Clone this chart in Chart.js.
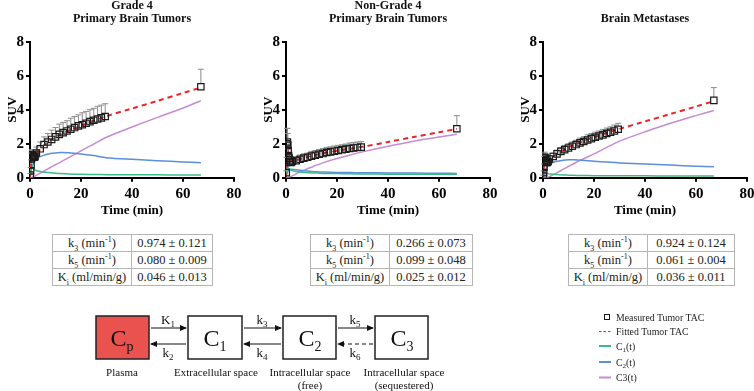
<!DOCTYPE html>
<html lang="en">
<head>
  <meta charset="UTF-8">
  <title>Tumor TAC kinetics</title>
  <script src="https://cdn.jsdelivr.net/npm/chart.js"></script>
  <style>
    body { margin: 0; background: #fff; }
    #page {
      position: relative;
      width: 754px;
      height: 391px;
      overflow: hidden;
      font-family: 'Liberation Serif', 'DejaVu Serif', 'Times New Roman', serif;
    }
    #page canvas { position: absolute; top: 0; }
    table.params {
      position: absolute;
      top: 234px;
      border-collapse: collapse;
      font-size: 12.5px;
      color: #222;
    }
    table.params td {
      border: 1px solid #b5b5b5;
      height: 16px;
      line-height: 16px;
      padding: 0 3px;
      text-align: center;
      white-space: nowrap;
    }
    table.params sub, table.params sup { font-size: 8px; line-height: 0; }
    #diagram { position: absolute; left: 0; top: 0; }
  </style>
</head>
<body>
  <div id="page">
    <canvas id="chartG4" width="250" height="218" style="left:0px"></canvas>
    <canvas id="chartNG4" width="250" height="218" style="left:256px"></canvas>
    <canvas id="chartMet" width="250" height="218" style="left:513px"></canvas>

    <table class="params" id="tableG4" style="left:52px;width:161px"></table>
    <table class="params" id="tableNG4" style="left:310px;width:163px"></table>
    <table class="params" id="tableMet" style="left:568px;width:167px"></table>

    <svg id="diagram" width="754" height="391">
      <defs>
        <marker id="ah" markerWidth="7" markerHeight="6" refX="6" refY="3" orient="auto" markerUnits="userSpaceOnUse">
          <path d="M0,0 L7,3 L0,6 z" fill="#111"/>
        </marker>
      </defs>
      <g font-family="Liberation Serif, DejaVu Serif, Times New Roman, serif" fill="#111">
        <!-- compartments -->
        <rect x="96" y="316" width="53" height="43" fill="#ea5250" stroke="#222" stroke-width="1.5"/>
        <rect x="188" y="316" width="54" height="43" fill="#fff" stroke="#222" stroke-width="1.5"/>
        <rect x="283" y="316" width="53" height="43" fill="#fff" stroke="#222" stroke-width="1.5"/>
        <rect x="375" y="316" width="53" height="43" fill="#fff" stroke="#222" stroke-width="1.5"/>
        <text x="122" y="346" text-anchor="middle" font-size="24">C<tspan font-size="14" dy="5">p</tspan></text>
        <text x="215" y="346" text-anchor="middle" font-size="24">C<tspan font-size="14" dy="5">1</tspan></text>
        <text x="310" y="346" text-anchor="middle" font-size="24">C<tspan font-size="14" dy="5">2</tspan></text>
        <text x="402" y="346" text-anchor="middle" font-size="24">C<tspan font-size="14" dy="5">3</tspan></text>

        <!-- rate arrows -->
        <g stroke="#111" stroke-width="1.2">
          <line x1="151" y1="328" x2="186" y2="328" marker-end="url(#ah)"/>
          <line x1="186" y1="344" x2="151" y2="344" marker-end="url(#ah)"/>
          <line x1="244" y1="328" x2="281" y2="328" marker-end="url(#ah)"/>
          <line x1="281" y1="344" x2="244" y2="344" marker-end="url(#ah)"/>
          <line x1="338" y1="328" x2="373" y2="328" marker-end="url(#ah)"/>
          <line x1="373" y1="344" x2="338" y2="344" stroke-dasharray="4,3" marker-end="url(#ah)"/>
        </g>
        <g font-size="13" text-anchor="middle">
          <text x="168" y="324">K<tspan font-size="9" dy="3">1</tspan></text>
          <text x="168" y="357">k<tspan font-size="9" dy="3">2</tspan></text>
          <text x="262" y="324">k<tspan font-size="9" dy="3">3</tspan></text>
          <text x="262" y="357">k<tspan font-size="9" dy="3">4</tspan></text>
          <text x="355" y="324">k<tspan font-size="9" dy="3">5</tspan></text>
          <text x="355" y="357">k<tspan font-size="9" dy="3">6</tspan></text>
        </g>
        <g font-size="11" text-anchor="middle">
          <text x="122" y="376">Plasma</text>
          <text x="216" y="376">Extracellular space</text>
          <text x="310" y="376">Intracellular space</text>
          <text x="310" y="389">(free)</text>
          <text x="404" y="376">Intracellular space</text>
          <text x="404" y="389">(sequestered)</text>
        </g>
      </g>
      <g id="legend" font-family="Liberation Serif, DejaVu Serif, Times New Roman, serif" font-size="9.8" fill="#222"></g>
    </svg>
  </div>

  <script>
    // frame mid-times (min) of the measured TAC, and sample times of model curves
    const frameTimes = [0.1, 0.25, 0.4, 0.55, 0.7, 0.85, 1.0, 1.2, 1.4, 1.7, 2.0, 2.5, 4, 5.5, 7, 8.5, 10, 11.5, 13, 14.5, 16, 17.5, 19, 20.5, 22, 23.5, 25, 26.5, 28, 29.5, 67];
    const curveTimes = [0, 0.3, 0.6, 1, 2, 3, 5, 8, 10, 12, 15, 20, 25, 30, 40, 50, 60, 67];

    const xTickValues = [0, 20, 40, 60, 80];
    const yTickValues = [0, 2, 4, 6, 8];

    // Grade 4 primary brain tumors
    const g4Measured = [0.15, 0.4, 0.75, 1.1, 1.3, 1.35, 1.3, 1.25, 1.2, 1.2, 1.25, 1.45, 1.7, 1.95, 2.1, 2.25, 2.4, 2.55, 2.65, 2.75, 2.85, 2.95, 3.05, 3.12, 3.2, 3.3, 3.38, 3.45, 3.52, 3.6, 5.35];
    const g4Error = [0.1, 0.2, 0.3, 0.35, 0.3, 0.3, 0.3, 0.3, 0.3, 0.3, 0.3, 0.35, 0.4, 0.45, 0.5, 0.55, 0.55, 0.6, 0.6, 0.6, 0.65, 0.65, 0.65, 0.7, 0.7, 0.7, 0.7, 0.75, 0.75, 0.75, 1.03];
    const g4Fit = [0, 0.6, 1.05, 1.25, 1.3, 1.5, 1.85, 2.2, 2.4, 2.55, 2.75, 3.05, 3.35, 3.62, 4.07, 4.52, 4.98, 5.3];
    const g4C1 = [0, 0.9, 0.8, 0.6, 0.45, 0.4, 0.34, 0.29, 0.26, 0.24, 0.22, 0.2, 0.19, 0.18, 0.17, 0.17, 0.16, 0.16];
    const g4C2 = [0, 0.25, 0.5, 0.75, 1.0, 1.15, 1.3, 1.42, 1.46, 1.48, 1.47, 1.4, 1.3, 1.18, 1.08, 1.0, 0.93, 0.88];
    const g4C3 = [0, 0, 0, 0.03, 0.1, 0.18, 0.35, 0.6, 0.76, 0.92, 1.17, 1.58, 1.98, 2.38, 2.98, 3.55, 4.1, 4.53];
    const g4Params = ['0.974 ± 0.121', '0.080 ± 0.009', '0.046 ± 0.013'];

    // Non-grade 4 primary brain tumors
    const ng4Measured = [0.3, 0.9, 2.0, 2.1, 1.9, 1.6, 1.3, 1.15, 1.05, 0.95, 0.9, 0.95, 1.0, 1.08, 1.15, 1.2, 1.27, 1.32, 1.38, 1.42, 1.48, 1.52, 1.56, 1.6, 1.64, 1.68, 1.72, 1.75, 1.78, 1.8, 2.88];
    const ng4Error = [0.1, 0.3, 0.9, 0.8, 0.7, 0.5, 0.4, 0.3, 0.3, 0.25, 0.25, 0.25, 0.25, 0.25, 0.25, 0.25, 0.28, 0.28, 0.28, 0.3, 0.3, 0.3, 0.3, 0.3, 0.3, 0.3, 0.32, 0.32, 0.32, 0.32, 0.77];
    const ng4Fit = [0, 1.2, 1.6, 1.25, 0.97, 0.98, 1.07, 1.2, 1.28, 1.35, 1.45, 1.58, 1.7, 1.82, 2.1, 2.39, 2.67, 2.87];
    const ng4C1 = [0, 0.7, 0.65, 0.55, 0.45, 0.4, 0.35, 0.3, 0.28, 0.27, 0.25, 0.24, 0.23, 0.22, 0.21, 0.21, 0.2, 0.2];
    const ng4C2 = [0, 0.2, 0.35, 0.45, 0.5, 0.48, 0.45, 0.4, 0.37, 0.35, 0.33, 0.31, 0.3, 0.29, 0.28, 0.27, 0.26, 0.25];
    const ng4C3 = [0, 0, 0, 0.02, 0.08, 0.15, 0.3, 0.5, 0.62, 0.74, 0.9, 1.13, 1.33, 1.52, 1.85, 2.15, 2.4, 2.55];
    const ng4Params = ['0.266 ± 0.073', '0.099 ± 0.048', '0.025 ± 0.012'];

    // Brain metastases
    const metMeasured = [0.1, 0.3, 0.6, 1.0, 1.2, 1.15, 1.05, 0.95, 0.9, 0.9, 0.95, 1.1, 1.25, 1.4, 1.55, 1.65, 1.75, 1.85, 1.95, 2.05, 2.13, 2.22, 2.3, 2.38, 2.45, 2.52, 2.6, 2.67, 2.75, 2.85, 4.55];
    const metError = [0.05, 0.1, 0.2, 0.25, 0.3, 0.25, 0.25, 0.2, 0.2, 0.2, 0.2, 0.2, 0.2, 0.22, 0.22, 0.25, 0.25, 0.25, 0.25, 0.28, 0.28, 0.3, 0.3, 0.3, 0.3, 0.32, 0.32, 0.32, 0.35, 0.35, 0.75];
    const metFit = [0, 0.5, 0.95, 1.0, 0.98, 1.12, 1.35, 1.62, 1.78, 1.92, 2.1, 2.38, 2.63, 2.87, 3.31, 3.75, 4.19, 4.5];
    const metC1 = [0, 0.3, 0.3, 0.28, 0.24, 0.22, 0.19, 0.16, 0.15, 0.14, 0.13, 0.12, 0.12, 0.11, 0.11, 0.1, 0.1, 0.1];
    const metC2 = [0, 0.15, 0.3, 0.5, 0.72, 0.83, 0.95, 1.03, 1.05, 1.05, 1.03, 0.97, 0.92, 0.87, 0.8, 0.74, 0.68, 0.65];
    const metC3 = [0, 0, 0, 0, 0.03, 0.1, 0.25, 0.5, 0.66, 0.82, 1.05, 1.4, 1.78, 2.15, 2.7, 3.2, 3.65, 3.95];
    const metParams = ['0.924 ± 0.124', '0.061 ± 0.004', '0.036 ± 0.011'];

    const paramLabels = ['k<sub>3</sub> (min<sup>-1</sup>)', 'k<sub>5</sub> (min<sup>-1</sup>)', 'K<sub>i</sub> (ml/min/g)'];

    const colors = {
      measured: '#1a1a1a',
      fit: '#e8262b',
      c1: '#3dbb86',
      c2: '#5b8fdb',
      c3: '#c68bd2',
      errorBar: '#8c8c8c'
    };
    const serif = "'Liberation Serif', 'DejaVu Serif', 'Times New Roman', serif";

    const pts = (xs, ys) => xs.map((x, i) => ({ x: x, y: ys[i] }));

    // upward-only error bars with a cap, drawn through the y scale
    const errorBars = {
      id: 'errorBars',
      beforeDatasetsDraw(chart) {
        const ds = chart.data.datasets[0];
        const meta = chart.getDatasetMeta(0);
        const yScale = chart.scales.y;
        const ctx = chart.ctx;
        ctx.save();
        ctx.strokeStyle = colors.errorBar;
        ctx.lineWidth = 1;
        meta.data.forEach((pt, i) => {
          const top = yScale.getPixelForValue(ds.data[i].y + ds.errorUp[i]);
          ctx.beginPath();
          ctx.moveTo(pt.x, pt.y - 3);
          ctx.lineTo(pt.x, top);
          ctx.moveTo(pt.x - 3, top);
          ctx.lineTo(pt.x + 3, top);
          ctx.stroke();
        });
        ctx.restore();
      }
    };

    function curve(label, times, values, color, dash) {
      return {
        label: label,
        data: pts(times, values),
        showLine: true,
        borderColor: color,
        borderWidth: dash ? 2 : 1.5,
        borderDash: dash || [],
        pointRadius: 0,
        tension: 0.3
      };
    }

    function makeChart(id, titleText, titlePadTop, measured, err, fit, c1, c2, c3) {
      return new Chart(document.getElementById(id), {
        type: 'scatter',
        data: {
          datasets: [
            {
              label: 'Measured Tumor TAC',
              data: pts(frameTimes, measured),
              errorUp: err,
              pointStyle: 'rect',
              pointRadius: 4.5,
              pointBorderColor: colors.measured,
              pointBackgroundColor: 'rgba(0,0,0,0)',
              pointBorderWidth: 1.2,
              showLine: false
            },
            curve('Fitted Tumor TAC', curveTimes, fit, colors.fit, [5, 4]),
            curve('C1(t)', curveTimes, c1, colors.c1),
            curve('C2(t)', curveTimes, c2, colors.c2),
            curve('C3(t)', curveTimes, c3, colors.c3)
          ]
        },
        options: {
          responsive: false,
          animation: false,
          devicePixelRatio: 1,
          layout: { padding: { left: 0, right: 16, top: 0, bottom: 0 } },
          plugins: {
            legend: { display: false },
            tooltip: { enabled: false },
            title: {
              display: true,
              text: titleText,
              fullSize: false,
              color: '#111',
              font: { family: serif, size: 12, weight: 'bold', lineHeight: 1.05 },
              padding: { top: titlePadTop, bottom: 16.5 }
            }
          },
          scales: {
            x: {
              type: 'linear',
              min: 0,
              max: 80,
              afterBuildTicks: s => { s.ticks = xTickValues.map(v => ({ value: v })); },
              afterFit: s => { s.height = 40.3; },
              border: { color: '#000', width: 2 },
              grid: { drawOnChartArea: false, color: '#000', lineWidth: 2, tickLength: 4 },
              ticks: { color: '#000', padding: 3, maxRotation: 0, font: { family: serif, size: 15, weight: 'bold' } },
              title: { display: true, text: 'Time (min)', color: '#000', padding: 0, font: { family: serif, size: 13, weight: 'bold' } }
            },
            y: {
              min: 0,
              max: 8,
              afterBuildTicks: s => { s.ticks = yTickValues.map(v => ({ value: v })); },
              afterFit: s => { s.width = 30; },
              border: { color: '#000', width: 2 },
              grid: { drawOnChartArea: false, color: '#000', lineWidth: 2, tickLength: 4 },
              ticks: { color: '#000', padding: 2, font: { family: serif, size: 15, weight: 'bold' } },
              title: { display: true, text: 'SUV', color: '#000', padding: { top: 5, bottom: 0 }, font: { family: serif, size: 13, weight: 'bold' } }
            }
          }
        },
        plugins: [errorBars]
      });
    }

    makeChart('chartG4', ['Grade 4', 'Primary Brain Tumors'], 0, g4Measured, g4Error, g4Fit, g4C1, g4C2, g4C3);
    makeChart('chartNG4', ['Non-Grade 4', 'Primary Brain Tumors'], 0, ng4Measured, ng4Error, ng4Fit, ng4C1, ng4C2, ng4C3);
    makeChart('chartMet', 'Brain Metastases', 12.6, metMeasured, metError, metFit, metC1, metC2, metC3);

    function fillTable(id, values) {
      const table = document.getElementById(id);
      table.innerHTML = paramLabels.map((lab, i) =>
        `<tr><td style="width:72px">${lab}</td><td>${values[i]}</td></tr>`).join('');
    }
    fillTable('tableG4', g4Params);
    fillTable('tableNG4', ng4Params);
    fillTable('tableMet', metParams);

    // legend for the series
    const legendItems = [
      { kind: 'square', text: 'Measured Tumor TAC', color: colors.measured },
      { kind: 'dash', text: 'Fitted Tumor TAC', color: colors.fit },
      { kind: 'line', text: 'C<tspan font-size="7" dy="2">1</tspan><tspan dy="-2">(t)</tspan>', color: colors.c1 },
      { kind: 'line', text: 'C<tspan font-size="7" dy="2">2</tspan><tspan dy="-2">(t)</tspan>', color: colors.c2 },
      { kind: 'line', text: 'C3(t)', color: colors.c3 }
    ];
    const legendRows = [317, 331.5, 346, 362, 377.5];
    const legend = document.getElementById('legend');
    legend.innerHTML = legendItems.map((it, i) => {
      const y = legendRows[i];
      let mark;
      if (it.kind === 'square') {
        mark = `<rect x="604.5" y="${y - 2.5}" width="5" height="5" fill="none" stroke="${it.color}" stroke-width="1"/>`;
      } else {
        mark = `<line x1="599" y1="${y}" x2="611" y2="${y}" stroke="${it.color}" stroke-width="${it.kind === 'dash' ? 1.2 : 2}" ${it.kind === 'dash' ? 'stroke-dasharray="2.5,2"' : ''}/>`;
      }
      return mark + `<text x="616" y="${y + 3.5}">${it.text}</text>`;
    }).join('');
  </script>
</body>
</html>
